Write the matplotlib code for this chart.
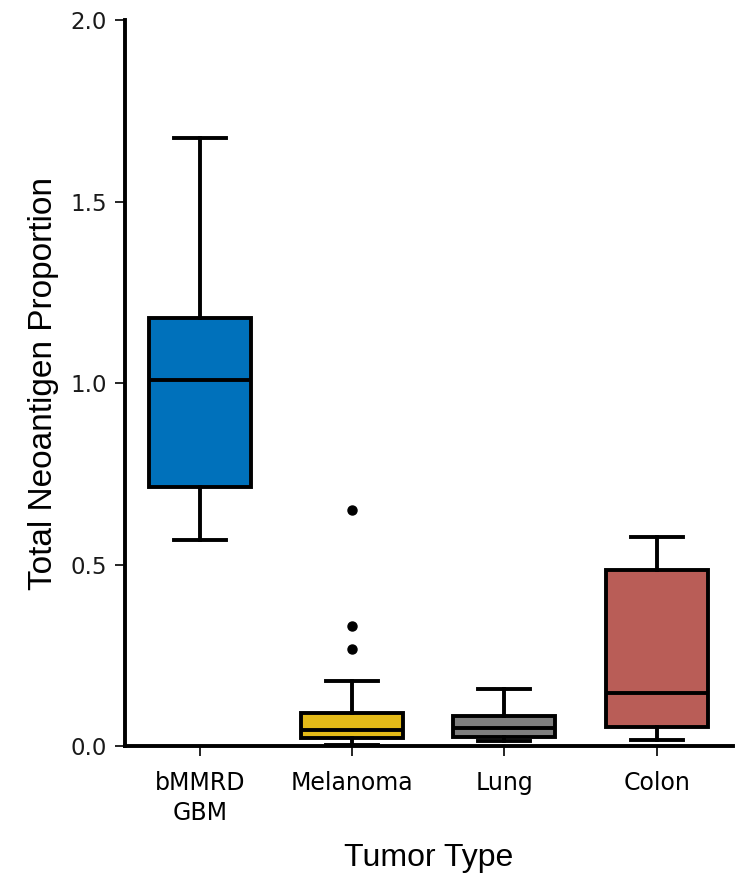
import matplotlib
matplotlib.use("Agg")
import matplotlib.pyplot as plt

# valores
tipos = ["bMMRD\nGBM", "Melanoma", "Lung", "Colon"]
colores = ["#0071bb", "#e4ba18", "#7f7f7f", "#b95d57"]
bigote_inf = [0.567, 0.005, 0.014, 0.017]
q1 = [0.713, 0.022, 0.025, 0.052]
mediana = [1.008, 0.044, 0.050, 0.146]
q3 = [1.180, 0.091, 0.083, 0.485]
bigote_sup = [1.675, 0.179, 0.157, 0.576]
atipicos = [[], [0.650, 0.331, 0.267], [], []]

stats = []
for i in range(len(tipos)):
    stats.append({"whislo": bigote_inf[i], "q1": q1[i], "med": mediana[i],
                  "q3": q3[i], "whishi": bigote_sup[i], "fliers": atipicos[i]})

fig = plt.figure(figsize=(7.44, 8.76), dpi=100)
ax = fig.add_axes([0.168, 0.148, 0.817, 0.829])

lw = 2.8
bp = ax.bxp(stats, positions=range(len(tipos)), widths=0.67, patch_artist=True,
            boxprops=dict(linewidth=lw, edgecolor="black"),
            medianprops=dict(color="black", linewidth=lw),
            whiskerprops=dict(color="black", linewidth=lw),
            capprops=dict(color="black", linewidth=lw),
            capwidths=0.34,
            flierprops=dict(marker="o", markerfacecolor="black", markeredgecolor="black",
                            markersize=6.5))
for caja, c in zip(bp["boxes"], colores):
    caja.set_facecolor(c)

ax.set_xlim(-0.49, 3.5)
ax.set_ylim(0, 2.0)
ax.set_yticks([0.0, 0.5, 1.0, 1.5, 2.0])
ax.set_yticklabels(["0.0", "0.5", "1.0", "1.5", "2.0"])
ax.set_xticks(range(len(tipos)))
ax.set_xticklabels(tipos, fontsize=17, family="DejaVu Sans", linespacing=1.3)
for t in ax.get_yticklabels():
    t.set_fontsize(16.5)
    t.set_family("DejaVu Sans")
    t.set_color("#1a1a1a")

ax.spines["top"].set_visible(False)
ax.spines["right"].set_visible(False)
ax.spines["left"].set_linewidth(2.8)
ax.spines["bottom"].set_linewidth(2.8)
ax.tick_params(axis="y", length=7, width=1.2, pad=6)
ax.tick_params(axis="x", length=7, width=1.2, pad=11)

fuente = ["Liberation Sans Narrow", "Liberation Sans", "DejaVu Sans"]
ax.set_ylabel("Total Neoantigen Proportion", fontsize=24, family=fuente, labelpad=8)
ax.set_xlabel("Tumor Type", fontsize=23, family=fuente, labelpad=13)

fig.savefig("out.png", dpi=100)
